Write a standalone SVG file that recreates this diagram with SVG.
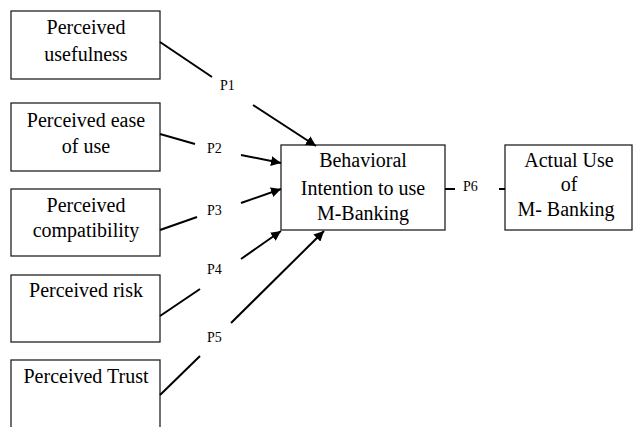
<svg xmlns="http://www.w3.org/2000/svg" width="634" height="427" viewBox="0 0 634 427">
<defs>
<marker id="ah" viewBox="0 0 10 10" refX="10" refY="5" markerWidth="5" markerHeight="5" orient="auto" markerUnits="strokeWidth">
<path d="M0,0 L10,5 L0,10 z" fill="#000"/>
</marker>
<style>
.box{fill:#fff;stroke:#222;stroke-width:1.3}
text{font-family:'Liberation Serif','DejaVu Serif',serif;fill:#000}
.t{font-size:20px;text-anchor:middle}
.l{font-size:14px}
.c{stroke:#000;stroke-width:2;fill:none}
.a{stroke:#000;stroke-width:2;fill:none;marker-end:url(#ah)}
</style>
</defs>
<rect width="634" height="427" fill="#fff"/>
<g id="n1"><rect class="box" x="11" y="11" width="149" height="68"/><text class="t" x="86" y="34">Perceived</text><text class="t" x="86" y="61">usefulness</text></g>
<g id="n2"><rect class="box" x="11" y="103" width="149" height="68"/><text class="t" x="86" y="127">Perceived ease</text><text class="t" x="86" y="153">of use</text></g>
<g id="n3"><rect class="box" x="11" y="189" width="149" height="67"/><text class="t" x="86" y="212">Perceived</text><text class="t" x="86" y="237">compatibility</text></g>
<g id="n4"><rect class="box" x="11" y="275" width="149" height="67"/><text class="t" x="86" y="297">Perceived risk</text></g>
<g id="n5"><rect class="box" x="11" y="360" width="149" height="80"/><text class="t" x="86" y="383">Perceived Trust</text></g>
<g id="n6"><rect class="box" x="281" y="145" width="164" height="85"/><text class="t" x="363" y="167">Behavioral</text><text class="t" x="363" y="195">Intention to use</text><text class="t" x="363" y="220">M-Banking</text></g>
<g id="n7"><rect class="box" x="505" y="145" width="127" height="85"/><text class="t" x="569" y="167">Actual Use</text><text class="t" x="569" y="191">of</text><text class="t" x="566" y="216">M- Banking</text></g>
<g id="connectors">
<line class="c" x1="160" y1="42" x2="212" y2="77"/>
<line class="a" x1="253" y1="105" x2="316" y2="146"/>
<line class="c" x1="160" y1="134" x2="195" y2="144"/>
<line class="a" x1="241" y1="155" x2="281" y2="163"/>
<line class="c" x1="160" y1="230" x2="197" y2="217"/>
<line class="a" x1="241" y1="203" x2="281" y2="189"/>
<line class="c" x1="160" y1="316" x2="200" y2="289"/>
<line class="a" x1="241" y1="259" x2="281" y2="231"/>
<line class="c" x1="160" y1="395" x2="200" y2="356"/>
<line class="a" x1="231" y1="323" x2="324" y2="231"/>
<line class="c" x1="445" y1="189" x2="455" y2="189"/>
<line class="c" x1="499" y1="189" x2="505" y2="189"/>
<text class="l" x="220" y="90">P1</text>
<text class="l" x="207" y="153">P2</text>
<text class="l" x="207" y="215">P3</text>
<text class="l" x="207" y="274">P4</text>
<text class="l" x="207" y="342">P5</text>
<text class="l" x="463" y="191">P6</text>
</g>
</svg>
